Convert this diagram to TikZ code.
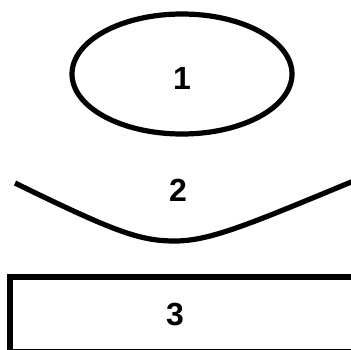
\documentclass[tikz,border=0pt]{standalone}
\usepackage{fontspec}
\setmainfont{Liberation Sans}
\usetikzlibrary{shapes.geometric}
\tikzset{
  shapeline/.style={draw=black, line width=5.2pt},
  numlabel/.style={font=\bfseries\fontsize{32}{32}\selectfont, inner sep=0pt, anchor=center}
}
\begin{document}
\begin{tikzpicture}[x=1pt,y=-1pt]
  \useasboundingbox (0,0) rectangle (351,349);
  \clip (0,0) rectangle (351,349);
  \fill[white] (0,0) rectangle (351,349);
  % 1: ellipse
  \node[shapeline, ellipse, minimum width=220pt, minimum height=120pt, inner sep=0pt] (e1) at (182,74) {};
  \node[numlabel] (t1) at (182,78) {1};
  % 2: curve
  \coordinate (cl) at (15,183);
  \coordinate (cb) at (175,241);
  \coordinate (cr) at (356,180);
  \draw[shapeline] (cl) .. controls (115,232) and (140,241) .. (cb) .. controls (210,241) and (250,224) .. (cr);
  \node[numlabel] (t2) at (178,190) {2};
  % 3: rectangle
  \draw[shapeline] (10,277) rectangle (360,352);
  \node[numlabel] (t3) at (175,315) {3};
\end{tikzpicture}
\end{document}
